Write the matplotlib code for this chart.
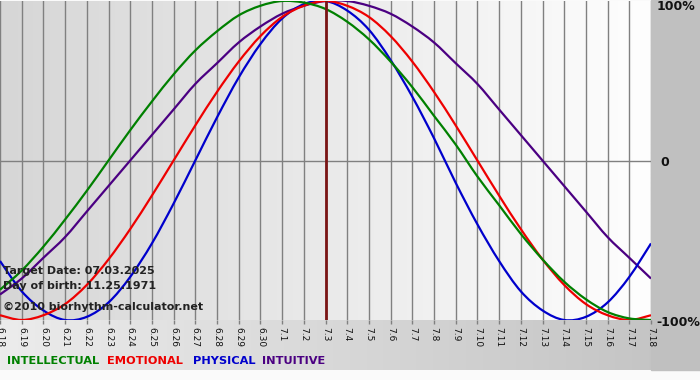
import numpy as np
import matplotlib
matplotlib.use('Agg')
import matplotlib.pyplot as plt
from matplotlib.patches import Rectangle, PathPatch
from matplotlib.path import Path

# day labels on the x axis
days = ['6.18', '6.19', '6.20', '6.21', '6.22', '6.23', '6.24', '6.25', '6.26', '6.27',
        '6.28', '6.29', '6.30', '7.1', '7.2', '7.3', '7.4', '7.5', '7.6', '7.7',
        '7.8', '7.9', '7.10', '7.11', '7.12', '7.13', '7.14', '7.15', '7.16', '7.17', '7.18']
target_idx = 15  # 7.3

# cycle values per day (-1 .. 1)
physical = [-0.63, -0.82, -0.94, -1.00, -0.98, -0.89, -0.73, -0.52, -0.27, 0.00,
            0.27, 0.52, 0.73, 0.89, 0.98, 1.00, 0.94, 0.82, 0.63, 0.40,
            0.14, -0.14, -0.40, -0.63, -0.82, -0.94, -1.00, -0.98, -0.89, -0.73, -0.52]
emotional = [-0.97, -1.00, -0.97, -0.90, -0.78, -0.62, -0.43, -0.22, 0.00, 0.22,
             0.43, 0.62, 0.78, 0.90, 0.97, 1.00, 0.97, 0.90, 0.78, 0.62,
             0.43, 0.22, 0.00, -0.22, -0.43, -0.62, -0.78, -0.90, -0.97, -1.00, -0.97]
intellectual = [-0.81, -0.69, -0.54, -0.37, -0.19, 0.00, 0.19, 0.37, 0.54, 0.69,
                0.81, 0.91, 0.97, 1.00, 0.99, 0.95, 0.87, 0.76, 0.62, 0.46,
                0.28, 0.10, -0.10, -0.28, -0.46, -0.62, -0.76, -0.87, -0.95, -0.99, -1.00]
intuitive = [-0.84, -0.74, -0.61, -0.48, -0.32, -0.16, 0.00, 0.16, 0.32, 0.48,
             0.61, 0.74, 0.84, 0.92, 0.97, 1.00, 1.00, 0.97, 0.92, 0.84,
             0.74, 0.61, 0.48, 0.32, 0.16, 0.00, -0.16, -0.32, -0.48, -0.61, -0.74]

legend_names = ['INTELLECTUAL', 'EMOTIONAL', 'PHYSICAL', 'INTUITIVE']
legend_cols = ['#008000', '#ee0000', '#0000cc', '#4b0082']


def smooth_line(ax, xs, ys, color, z):
    # draw a smooth curve through the points (catmull-rom as bezier segments)
    pts = np.column_stack([xs, ys]).astype(float)
    ext = np.vstack([pts[0], pts, pts[-1]])
    verts = [pts[0]]
    codes = [Path.MOVETO]
    for i in range(len(pts) - 1):
        p0, p1, p2, p3 = ext[i], ext[i + 1], ext[i + 2], ext[i + 3]
        verts += [p1 + (p2 - p0) / 6, p2 - (p3 - p1) / 6, p2]
        codes += [Path.CURVE4] * 3
    ax.add_patch(PathPatch(Path(verts, codes), fill=False, edgecolor=color, lw=1.6, zorder=z))


W, H = 700, 380
fig = plt.figure(figsize=(7, 3.8), dpi=100)
fig.patch.set_facecolor('#fafafa')

# background panels (pixel coords)
bg = fig.add_axes([0, 0, 1, 1], zorder=-5)
bg.set_xlim(0, W)
bg.set_ylim(H, 0)
bg.axis('off')
grad = np.linspace(0, 1, 256).reshape(1, -1)
bg.imshow(grad, cmap=matplotlib.colors.LinearSegmentedColormap.from_list('b', ['#ececec', '#c2c2c2']),
          extent=(0, W, 370, 320), aspect='auto', zorder=0)
bg.add_patch(Rectangle((651, 0), W - 651, 370, color='#c0c0c0', zorder=1))

# plot area
x = np.arange(len(days))
ax = fig.add_axes([0, 60 / H, 651 / W, 319 / H])
ax.set_xlim(0, len(days) - 1)
ax.set_ylim(-1.0, 1.0)
ax.imshow(grad, cmap=matplotlib.colors.LinearSegmentedColormap.from_list('p', ['#d6d6d6', '#fefefe']),
          extent=(0, len(days) - 1, -1, 1), aspect='auto', zorder=0)
for s in ax.spines.values():
    s.set_visible(False)
ax.set_yticks([])
ax.set_xticks(x)
ax.set_xticklabels(days, rotation=-90, fontsize=6.5, color='#111111')
ax.tick_params(axis='x', length=3, width=1, color='#808080', pad=2)
for xi in x:
    ax.axvline(xi, color='#808080', lw=1, zorder=1)
ax.axhline(0, color='#808080', lw=1, zorder=1)

smooth_line(ax, x, intuitive, legend_cols[3], 3)
smooth_line(ax, x, physical, legend_cols[2], 3)
smooth_line(ax, x, emotional, legend_cols[1], 3)
smooth_line(ax, x, intellectual, legend_cols[0], 3)
ax.axvline(target_idx, color='#7a1515', lw=2, zorder=4)

txt = dict(fontsize=8, fontweight='bold', color='#222222', transform=fig.transFigure, va='center')
fig.text(3 / W, 1 - 271 / H, 'Target Date: 07.03.2025', **txt)
fig.text(3 / W, 1 - 286 / H, 'Day of birth: 11.25.1971', **txt)
fig.text(3 / W, 1 - 307 / H, '\u00a92010 biorhythm-calculator.net', **txt)

# right side labels
rt = dict(fontsize=9, fontweight='bold', color='#111111', va='center', ha='left')
fig.text(657 / W, 1 - 7 / H, '100%', **rt)
fig.text(660 / W, 1 - 162 / H, '0', **rt)
fig.text(656 / W, 1 - 322 / H, '-100%', **rt)

# legend line
xpos = [7, 107, 193, 262]
for name, col, xp in zip(legend_names, legend_cols, xpos):
    fig.text(xp / W, 1 - 361 / H, name, fontsize=8.2, fontweight='bold', color=col, va='center')

fig.savefig('out.png', dpi=100)
